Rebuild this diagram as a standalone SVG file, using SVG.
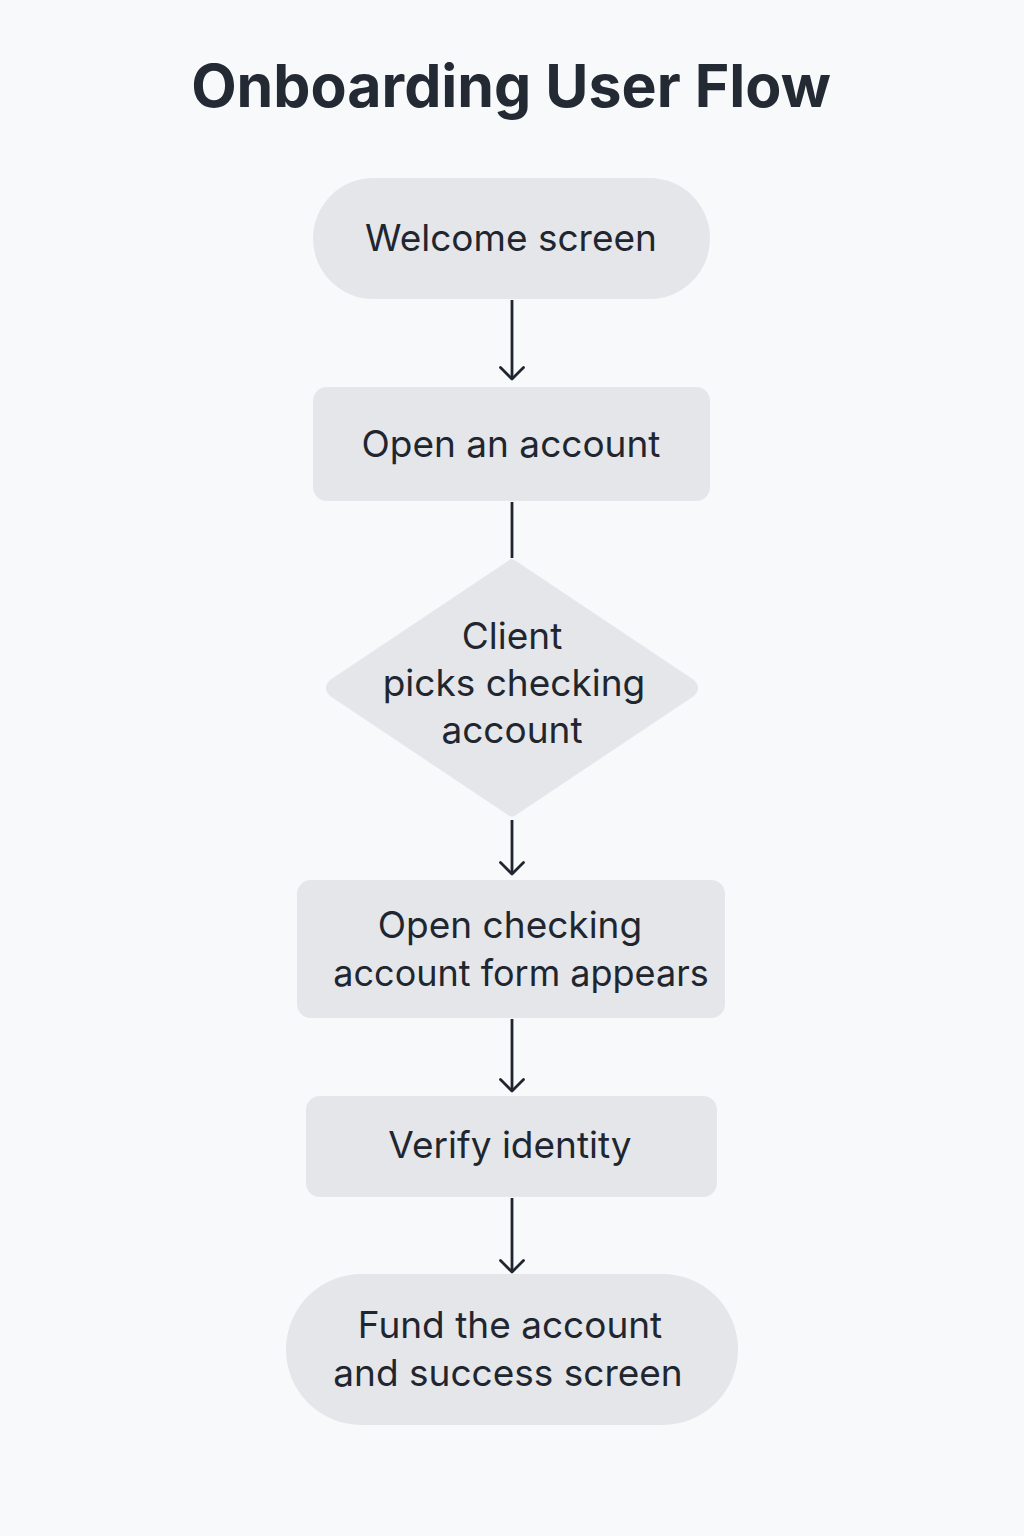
<svg xmlns="http://www.w3.org/2000/svg" width="1024" height="1536" viewBox="0 0 1024 1536">
<defs>
<style>
.bg{fill:#f8f9fb}
.node{fill:#e4e6ea}
.t{font-family:Inter,"Noto Sans","Liberation Sans",sans-serif;font-size:37px;fill:#1f2630;text-anchor:middle}
.title{font-family:Inter,"Noto Sans","Liberation Sans",sans-serif;font-size:59px;font-weight:700;fill:#242a33;text-anchor:middle}
.edge{stroke:#1f2630;stroke-width:2.8;fill:none}
</style>
<marker id="arr" viewBox="0 0 15 26" refX="13" refY="13" markerWidth="15" markerHeight="26" markerUnits="userSpaceOnUse" orient="auto">
<path d="M1.5,1.5 L13,13 L1.5,24.5" fill="none" stroke="#1f2630" stroke-width="2.8" stroke-linecap="round" stroke-linejoin="round"/>
</marker>
</defs>
<rect class="bg" x="0" y="0" width="1024" height="1536"/>
<text class="title" x="511" y="107">Onboarding User Flow</text>

<g id="connectors">
<line class="edge" x1="512" y1="300" x2="512" y2="379" marker-end="url(#arr)"/>
<line class="edge" x1="512" y1="502" x2="512" y2="558"/>
<line class="edge" x1="512" y1="820" x2="512" y2="874" marker-end="url(#arr)"/>
<line class="edge" x1="512" y1="1019" x2="512" y2="1091" marker-end="url(#arr)"/>
<line class="edge" x1="512" y1="1198" x2="512" y2="1272" marker-end="url(#arr)"/>
</g>

<g id="welcome">
<rect class="node" x="313" y="178" width="397" height="121" rx="60.5"/>
<text class="t" x="511" y="251">Welcome screen</text>
</g>

<g id="open-account">
<rect class="node" x="313" y="387" width="397" height="114" rx="14"/>
<text class="t" x="511" y="457">Open an account</text>
</g>

<g id="decision">
<path class="node" d="M512,559 Q512,559 516,561 L694,680 Q702,688 694,696 L516,815 Q512,818 508,815 L330,696 Q322,688 330,680 L508,561 Q512,558 512,559 Z"/>
<text class="t" x="512" y="649">Client</text>
<text class="t" x="514" y="696">picks checking</text>
<text class="t" x="512" y="743">account</text>
</g>

<g id="form">
<rect class="node" x="297" y="880" width="428" height="138" rx="14"/>
<text class="t" x="510" y="938">Open checking</text>
<text class="t" x="521" y="986" style="font-size:36px">account form appears</text>
</g>

<g id="verify">
<rect class="node" x="306" y="1096" width="411" height="101" rx="14"/>
<text class="t" x="510" y="1158">Verify identity</text>
</g>

<g id="fund">
<rect class="node" x="286" y="1274" width="452" height="151" rx="75.5"/>
<text class="t" x="510" y="1338">Fund the account</text>
<text class="t" x="508" y="1386">and success screen</text>
</g>
</svg>
